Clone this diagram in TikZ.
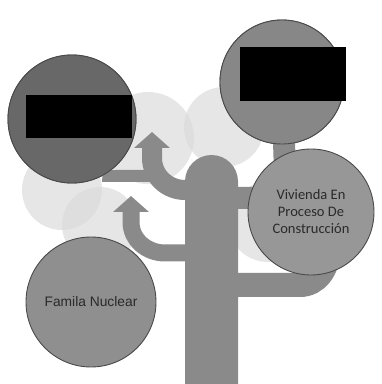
\documentclass[tikz,border=0pt]{standalone}
\usepackage{fontspec}
\setmainfont{Liberation Sans}
\newfontfamily\calibrifont{Carlito}
\usetikzlibrary{arrows.meta,positioning,calc}
\definecolor{palegray}{HTML}{DCDCDC}
\definecolor{trunkgray}{HTML}{8A8A8A}
\definecolor{darkdisc}{HTML}{686868}
\definecolor{middisc}{HTML}{878787}
\definecolor{famdisc}{HTML}{8F8F8F}
\definecolor{lightdisc}{HTML}{979797}
\definecolor{rimgray}{HTML}{4A4A4A}
\definecolor{inkgray}{HTML}{2A2A2A}

\begin{document}
\begin{tikzpicture}[
  x=1pt, y=1pt,
  halo/.style={
    circle,
    fill=palegray,
    fill opacity=0.7,
    draw=none,
    inner sep=0pt
  },
  disc/.style={
    circle,
    draw=rimgray,
    line width=0.9pt,
    inner sep=0pt,
    align=center,
    text=inkgray
  },
  redact/.style={
    fill=black,
    draw=none,
    inner sep=0pt
  },
  branch/.style={
    draw=trunkgray,
    line width=20pt
  },
  uparrow/.style={
    branch,
    -{Triangle[width=35pt,length=16pt]}
  }
]

  \fill[white] (0,0) rectangle (382,384);
  \useasboundingbox (0,0) rectangle (382,384);

  % ----------------------------------------------------
  % PALE BACKGROUND CIRCLES
  % ----------------------------------------------------
  \node[halo, minimum size=92pt] (haloA) at (148,246) {};
  \node[halo, minimum size=80pt] (haloB) at (224,257) {};
  \node[halo, minimum size=80pt] (haloC) at (62,194) {};
  \node[halo, minimum size=76pt] (haloD) at (100,159) {};
  \node[halo, minimum size=80pt] (haloE) at (268,162) {};

  % ----------------------------------------------------
  % TRUNK
  % ----------------------------------------------------
  \fill[trunkgray] (185,0) -- (185,202.5) arc[start angle=180, end angle=0, radius=26.5] -- (238,0) -- cycle;
  \coordinate (stemL1) at (200,194);
  \coordinate (stemL2) at (200,131);
  \coordinate (stemR1) at (225,186);
  \coordinate (stemR2) at (225,99);

  % ----------------------------------------------------
  % MAIN CIRCLES
  % ----------------------------------------------------
  \node[disc, fill=darkdisc, minimum size=128pt] (discA) at (72,265) {};
  \node[disc, fill=middisc, minimum size=124pt] (discB) at (282,302) {};

  % Branches (drawn before the circles that hide their ends)
  \draw[branch, line width=12pt] (discA.-62) -- (152,208);
  \draw[uparrow] (stemL1) -- (185,194) to[out=180, in=-90] (152,226) -- (152,252);
  \draw[uparrow, line width=17pt] (stemL2) -- (165,131) to[out=180, in=-90] (131,162) -- (131,188);
  \draw[branch, line width=22pt] (stemR1) -- (262,186) to[out=0, in=-90] (285,212) -- (discB.center);
  \draw[branch, line width=24pt] (stemR2) -- (300,99) to[out=0, in=-90] (328,132);

  \node[disc, fill=darkdisc, minimum size=128pt] at (discA) {};
  \node[disc, fill=middisc, minimum size=124pt] at (discB) {};

  \node[disc, fill=lightdisc, minimum size=126pt,
        font=\calibrifont\fontsize{14.5}{17}\selectfont] (discV) at (311,172)
    {Vivienda En\\Proceso De\\Construcción};

  \node[disc, fill=famdisc, minimum size=130pt,
        font=\fontsize{13.8}{16}\selectfont] (discF) at (91,82)
    {Famila Nuclear};

  % Redacted labels
  \node[redact, minimum width=106pt, minimum height=43pt] (maskA) at (79,267.5) {};
  \node[redact, minimum width=106pt, minimum height=54pt] (maskB) at (293,310) {};

\end{tikzpicture}
\end{document}
